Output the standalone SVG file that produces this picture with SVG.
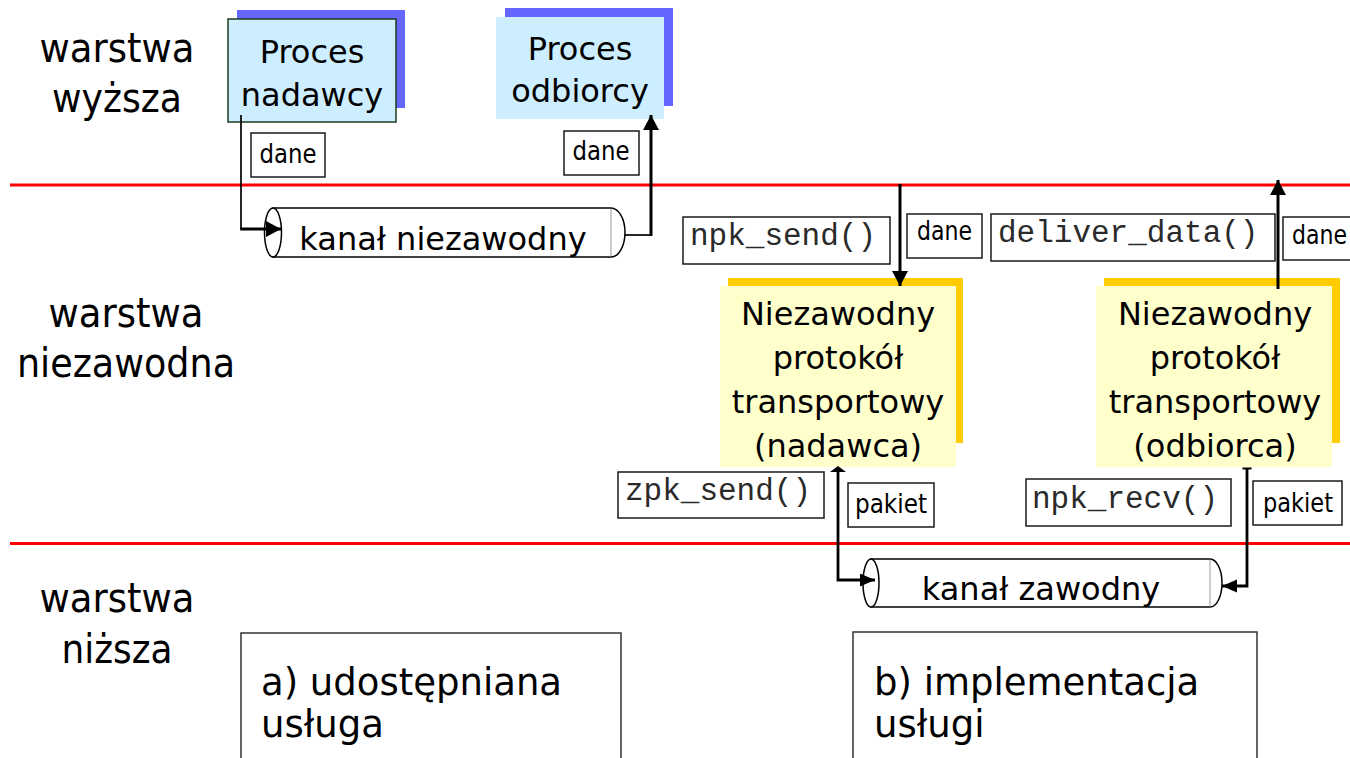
<svg xmlns="http://www.w3.org/2000/svg" width="1350" height="758" viewBox="0 0 1350 758">
  <style>
    .sans { font-family: "DejaVu Sans", Verdana, sans-serif; fill: #000; }
    .mono { font-family: "Liberation Mono", "Courier New", monospace; font-size: 31px; fill: #2a2a2a; }
    .layer { font-size: 40px; text-anchor: middle; }
    .proc { font-size: 32px; text-anchor: middle; }
    .proto { font-size: 32px; text-anchor: middle; }
    .chan { font-size: 32px; text-anchor: middle; }
    .tag { font-size: 26px; text-anchor: middle; }
    .caption { font-size: 37px; }
    .label { fill: #fff; stroke: #1a1a1a; stroke-width: 1.5; }
    .sep { stroke: #ff0000; stroke-width: 3; }
    .pipe { fill: #fff; stroke: #000; stroke-width: 1.5; }
    .wire { fill: none; stroke: #000; stroke-linejoin: miter; }
  </style>
  <defs>
    <marker id="arrow" markerUnits="userSpaceOnUse" markerWidth="18" markerHeight="18" refX="15" refY="8" orient="auto">
      <path d="M0,0 L15,8 L0,16 Z" fill="#000"/>
    </marker>
    <marker id="arrowSm" markerUnits="userSpaceOnUse" markerWidth="16" markerHeight="14" refX="15" refY="6.5" orient="auto">
      <path d="M0,0 L15,6.5 L0,13 Z" fill="#000"/>
    </marker>
  </defs>

  <rect width="1350" height="758" fill="#fff"/>

  <!-- layer separators -->
  <line class="sep" x1="10" y1="185" x2="1350" y2="185"/>
  <line class="sep" x1="10" y1="543.5" x2="1350" y2="543.5"/>

  <!-- layer names -->
  <g id="layer-upper" class="sans layer">
    <text x="117" y="62" textLength="155" lengthAdjust="spacingAndGlyphs">warstwa</text>
    <text x="117" y="112" textLength="130" lengthAdjust="spacingAndGlyphs">wyższa</text>
  </g>
  <g id="layer-reliable" class="sans layer">
    <text x="126" y="327" textLength="155" lengthAdjust="spacingAndGlyphs">warstwa</text>
    <text x="126" y="377" textLength="218" lengthAdjust="spacingAndGlyphs">niezawodna</text>
  </g>
  <g id="layer-lower" class="sans layer">
    <text x="117" y="612" textLength="155" lengthAdjust="spacingAndGlyphs">warstwa</text>
    <text x="117" y="663" textLength="111" lengthAdjust="spacingAndGlyphs">niższa</text>
  </g>

  <!-- application processes -->
  <g id="sender-process">
    <rect x="237" y="10" width="168" height="98" fill="#6666ff"/>
    <rect x="228" y="19" width="168" height="103" fill="#cdeeff" stroke="#1c3a1c" stroke-width="1.5"/>
    <text class="sans proc" x="312" y="63">Proces</text>
    <text class="sans proc" x="312" y="106">nadawcy</text>
  </g>
  <g id="receiver-process">
    <rect x="505" y="8" width="168" height="98" fill="#6666ff"/>
    <rect x="496" y="17" width="168" height="102" fill="#cdeeff"/>
    <text class="sans proc" x="580" y="60">Proces</text>
    <text class="sans proc" x="580" y="102">odbiorcy</text>
  </g>

  <!-- data tags, upper layer -->
  <g id="tag-data-send">
    <rect class="label" x="251" y="133" width="74" height="44"/>
    <text class="sans tag" x="288" y="163" font-size="25" textLength="57" lengthAdjust="spacingAndGlyphs">dane</text>
  </g>
  <g id="tag-data-recv">
    <rect class="label" x="564" y="131" width="75" height="44"/>
    <text class="sans tag" x="601" y="160" font-size="25" textLength="57" lengthAdjust="spacingAndGlyphs">dane</text>
  </g>

  <!-- reliable channel (abstract service) -->
  <g id="reliable-channel">
    <path class="pipe" d="M273,208 L611,208 A14,24.5 0 0 1 611,257 L273,257 Z"/>
    <line x1="611" y1="208.5" x2="611" y2="256.5" stroke="#999" stroke-width="1"/>
    <ellipse class="pipe" cx="273" cy="232.5" rx="8.5" ry="24.5"/>
    <text class="sans chan" x="443" y="250">kanał niezawodny</text>
  </g>

  <!-- function-call tags, reliable layer -->
  <g id="call-npk-send">
    <rect class="label" x="683" y="217" width="207" height="47"/>
    <text class="mono" x="690" y="245">npk_send()</text>
  </g>
  <g id="tag-data-npk">
    <rect class="label" x="907" y="214" width="75" height="44"/>
    <text class="sans tag" x="944.5" y="240" font-size="27" textLength="55" lengthAdjust="spacingAndGlyphs">dane</text>
  </g>
  <g id="call-deliver-data">
    <rect class="label" x="991" y="214" width="284" height="47"/>
    <text class="mono" x="998" y="242">deliver_data()</text>
  </g>
  <g id="tag-data-deliver">
    <rect class="label" x="1283" y="217" width="80" height="43"/>
    <text class="sans tag" x="1319.5" y="244" font-size="27" textLength="55" lengthAdjust="spacingAndGlyphs">dane</text>
  </g>

  <!-- reliable transport protocol entities -->
  <g id="rdt-sender">
    <rect x="728" y="278" width="235" height="165" fill="#ffcc00"/>
    <rect x="720" y="286" width="236" height="181" fill="#ffffcc"/>
    <text class="sans proto" x="838" y="325">Niezawodny</text>
    <text class="sans proto" x="838" y="369">protokół</text>
    <text class="sans proto" x="838" y="413">transportowy</text>
    <text class="sans proto" x="838" y="457">(nadawca)</text>
  </g>
  <g id="rdt-receiver">
    <rect x="1104" y="278" width="236" height="165" fill="#ffcc00"/>
    <rect x="1096" y="286" width="236" height="181" fill="#ffffcc"/>
    <text class="sans proto" x="1215" y="325">Niezawodny</text>
    <text class="sans proto" x="1215" y="369">protokół</text>
    <text class="sans proto" x="1215" y="413">transportowy</text>
    <text class="sans proto" x="1215" y="457">(odbiorca)</text>
  </g>

  <!-- function-call tags, lower interface -->
  <g id="call-zpk-send">
    <rect class="label" x="618" y="472" width="206" height="46"/>
    <text class="mono" x="625" y="500">zpk_send()</text>
  </g>
  <g id="tag-packet-send">
    <rect class="label" x="848" y="483" width="86" height="44"/>
    <text class="sans tag" x="891" y="513" textLength="72" lengthAdjust="spacingAndGlyphs">pakiet</text>
  </g>
  <g id="call-npk-recv">
    <rect class="label" x="1026" y="479" width="205" height="47"/>
    <text class="mono" x="1032" y="508">npk_recv()</text>
  </g>
  <g id="tag-packet-recv">
    <rect class="label" x="1253" y="481" width="89" height="44"/>
    <text class="sans tag" x="1298" y="512" textLength="70" lengthAdjust="spacingAndGlyphs">pakiet</text>
  </g>

  <!-- unreliable channel -->
  <g id="unreliable-channel">
    <path class="pipe" d="M871,559 L1210,559 A12,24 0 0 1 1210,607 L871,607 Z"/>
    <line x1="1210" y1="559.5" x2="1210" y2="606.5" stroke="#999" stroke-width="1"/>
    <ellipse class="pipe" cx="871" cy="583" rx="8" ry="24"/>
    <text class="sans chan" x="1041" y="600">kanał zawodny</text>
  </g>

  <!-- box captions -->
  <g id="caption-service">
    <rect x="241" y="633" width="380" height="140" fill="#fff" stroke="#333" stroke-width="1.5"/>
    <text class="sans caption" x="261" y="695">a) udostępniana</text>
    <text class="sans caption" x="261" y="737">usługa</text>
  </g>
  <g id="caption-implementation">
    <rect x="853" y="632" width="404" height="140" fill="#fff" stroke="#333" stroke-width="1.5"/>
    <text class="sans caption" x="874" y="695">b) implementacja</text>
    <text class="sans caption" x="874" y="737">usługi</text>
  </g>

  <!-- connectors -->
  <g id="connectors">
    <!-- sender process into reliable channel -->
    <path class="wire" d="M241,115 L241,229" stroke-width="1.7"/>
    <path class="wire" d="M240.2,229 L281,229" stroke-width="2.8" marker-end="url(#arrow)"/>
    <!-- reliable channel up to receiver process -->
    <path class="wire" d="M625,235 L651,235" stroke-width="1.7"/>
    <path class="wire" d="M651,236 L651,115" stroke-width="3" marker-end="url(#arrow)"/>
    <!-- upper layer down into sender protocol -->
    <path class="wire" d="M900,184 L900,286" stroke-width="3" marker-end="url(#arrow)"/>
    <!-- receiver protocol up to upper layer -->
    <path class="wire" d="M1278,289 L1278,180" stroke-width="3" marker-end="url(#arrow)"/>
    <!-- sender protocol down into unreliable channel -->
    <path class="wire" d="M838,472 L838,580 L875,580" stroke-width="2.8" marker-end="url(#arrowSm)"/>
    <path d="M830,472 L838,466 L846,472 Z" fill="#000"/>
    <!-- unreliable channel up to receiver protocol -->
    <path class="wire" d="M1247,468 L1247,586 L1222,586" stroke-width="2.8" marker-end="url(#arrowSm)"/>
    <line x1="1242.5" y1="468.5" x2="1251.5" y2="468.5" stroke="#000" stroke-width="2"/>
  </g>
</svg>
